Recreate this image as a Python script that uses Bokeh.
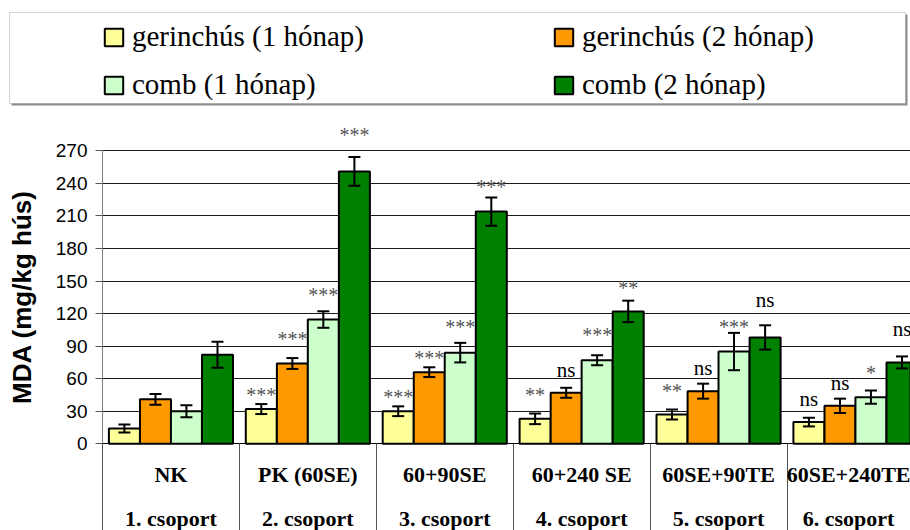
import numpy as np
from bokeh.plotting import figure
from bokeh.models import (ColumnDataSource, FixedTicker, Whisker, TeeHead, Legend,
                          LegendItem, BoxAnnotation, Range1d)
from bokeh.core.properties import value
from bokeh.embed import file_html
from bokeh.resources import INLINE

# ---------------- data ----------------
categories = ["NK", "PK (60SE)", "60+90SE", "60+240 SE", "60SE+90TE", "60SE+240TE"]
groups = ["1. csoport", "2. csoport", "3. csoport", "4. csoport", "5. csoport", "6. csoport"]
series_names = ["gerinchús (1 hónap)", "gerinchús (2 hónap)", "comb (1 hónap)", "comb (2 hónap)"]

gerinc1 = [14, 32, 30, 23, 27, 20]
gerinc1_err = [3.7, 4.6, 4.5, 4.9, 4.6, 4.0]
gerinc2 = [41, 74, 66, 47, 48.5, 35]
gerinc2_err = [5.0, 5.0, 4.5, 4.6, 6.9, 6.6]
comb1 = [30, 114.5, 84, 77, 85, 43]
comb1_err = [5.5, 7.6, 9.0, 4.6, 17.2, 6.1]
comb2 = [82, 251, 214, 122, 98, 75]
comb2_err = [12.0, 13.2, 13.0, 9.9, 11.2, 5.5]

sig_g1 = ["", "***", "***", "**", "**", "ns"]
sig_g2 = ["", "***", "***", "ns", "ns", "ns"]
sig_c1 = ["", "***", "***", "***", "***", "*"]
sig_c2 = ["", "***", "***", "**", "ns", "ns"]
sig_pos_g1 = [0, 47.5, 46, 47.6, 51.6, 41.5]
sig_pos_g2 = [0, 99.2, 82, 68.2, 70, 55.8]
sig_pos_c1 = [0, 139.7, 110, 102.6, 110.6, 68.2]
sig_pos_c2 = [0, 287.1, 239.6, 146.5, 132.7, 105.6]

yticks = [0, 30, 60, 90, 120, 150, 180, 210, 240, 270]

values = [gerinc1, gerinc2, comb1, comb2]
errors = [gerinc1_err, gerinc2_err, comb1_err, comb2_err]
sigs = [sig_g1, sig_g2, sig_c1, sig_c2]
sig_pos = [sig_pos_g1, sig_pos_g2, sig_pos_c1, sig_pos_c2]

# ---------------- styles ----------------
colors = ["#FFFF99", "#FF9900", "#CCFFCC", "#008000"]
offsets = [-0.34, -0.113, 0.113, 0.34]
bar_w = 0.2265
SERIF = "Liberation Serif"
SANS = "Liberation Sans"
W, H = 910, 530

# frame covers the whole canvas; axes are pinned at x=0 / y=0
p = figure(width=W, height=H, x_range=Range1d(-0.745, 5.902), y_range=Range1d(-79.9, 408.5),
           output_backend="svg", toolbar_location=None,
           min_border_left=0, min_border_right=0, min_border_top=0, min_border_bottom=0)
p.outline_line_color = None
p.background_fill_color = "white"

centers = np.arange(len(categories)) + 0.5
renderers = []
for k in range(4):
    xs = centers + offsets[k]
    v = np.array(values[k], dtype=float)
    e = np.array(errors[k], dtype=float)
    src = ColumnDataSource(dict(x=xs, top=v, upper=v + e, lower=v - e))
    r = p.vbar(x="x", top="top", bottom=0, width=bar_w, source=src,
               fill_color=colors[k], line_color="black", line_width=2)
    renderers.append(r)
    w = Whisker(base="x", upper="upper", lower="lower", source=src, level="overlay",
                line_color="black", line_width=2,
                upper_head=TeeHead(size=12, line_width=2, line_color="black"),
                lower_head=TeeHead(size=12, line_width=2, line_color="black"))
    p.add_layout(w)

    # significance labels
    ax, ay, at, nx, ny, nt = [], [], [], [], [], []
    for i, s in enumerate(sigs[k]):
        if not s:
            continue
        if s.startswith("*"):
            ax.append(xs[i]); ay.append(sig_pos[k][i]); at.append(s)
        else:
            nx.append(xs[i]); ny.append(sig_pos[k][i]); nt.append(s)
    p.text(x=ax, y=ay, text=at, text_font=value(SERIF), text_font_size="20px",
           text_color="#555555", text_align="center", text_baseline="alphabetic", y_offset=3)
    p.text(x=nx, y=ny, text=nt, text_font=value(SERIF), text_font_size="21px",
           text_color="black", text_align="center", text_baseline="alphabetic", y_offset=0)

# ---------------- grid & axes ----------------
p.xgrid.visible = False
p.ygrid.grid_line_color = "#1a1a1a"
p.ygrid.grid_line_width = 1
p.ygrid.cross_bounds = (0, 5.902)

p.yaxis.fixed_location = 0
p.yaxis.ticker = FixedTicker(ticks=yticks)
p.yaxis.bounds = (0, 270)
p.yaxis.axis_label = "MDA (mg/kg hús)"
p.yaxis.axis_label_text_font = SANS
p.yaxis.axis_label_text_font_style = "bold"
p.yaxis.axis_label_text_font_size = "26px"
p.yaxis.axis_label_text_color = "black"
p.yaxis.axis_label_standoff = 16
p.yaxis.major_label_text_font = SANS
p.yaxis.major_label_text_font_size = "19px"
p.yaxis.major_label_text_color = "black"
p.yaxis.major_label_standoff = 8
p.yaxis.major_tick_out = 7
p.yaxis.major_tick_in = 0
p.yaxis.minor_tick_out = 0
p.yaxis.minor_tick_in = 0
p.yaxis.axis_line_color = "#808080"
p.yaxis.major_tick_line_color = "#555555"

SEP = 90
p.xaxis.fixed_location = 0
p.xaxis.bounds = (0, 5.902)
p.xaxis.ticker = FixedTicker(ticks=list(centers),
                             minor_ticks=list(np.arange(len(categories) + 1, dtype=float)))
p.xaxis.major_label_overrides = {float(c): f"{categories[i]}\n{groups[i]}"
                                 for i, c in enumerate(centers)}
p.xaxis.major_label_text_font = SERIF
p.xaxis.major_label_text_font_style = "bold"
p.xaxis.major_label_text_font_size = "22px"
p.xaxis.major_label_text_color = "black"
p.xaxis.major_label_text_line_height = 1.78
p.xaxis.major_label_standoff = 18 - SEP
p.xaxis.major_tick_out = 0
p.xaxis.major_tick_in = 0
p.xaxis.minor_tick_out = SEP
p.xaxis.minor_tick_in = 0
p.xaxis.minor_tick_line_color = "#555555"
p.xaxis.axis_line_color = "black"

# ---------------- legend ----------------
p.add_layout(BoxAnnotation(left=11, right=907, top=H - 14, bottom=H - 105, left_units="screen",
                           right_units="screen", top_units="screen", bottom_units="screen",
                           fill_color="#8c8c8c", fill_alpha=1, line_color=None))
p.add_layout(BoxAnnotation(left=9, right=905, top=H - 12, bottom=H - 103, left_units="screen",
                           right_units="screen", top_units="screen", bottom_units="screen",
                           fill_color="white", fill_alpha=1, line_color="#707070", line_width=1))

legend = Legend(items=[LegendItem(label=series_names[k], renderers=[renderers[k]]) for k in range(4)],
                orientation="horizontal", ncols=2, location=(102, H - 101),
                glyph_width=23, glyph_height=22, label_standoff=7, label_width=405,
                spacing=15, padding=0, margin=0, border_line_color=None,
                background_fill_alpha=0, label_text_font=SERIF, label_text_font_size="29px",
                label_text_baseline="bottom", label_text_color="black")
p.add_layout(legend, "center")

open("out.html", "w").write(file_html(p, INLINE))
